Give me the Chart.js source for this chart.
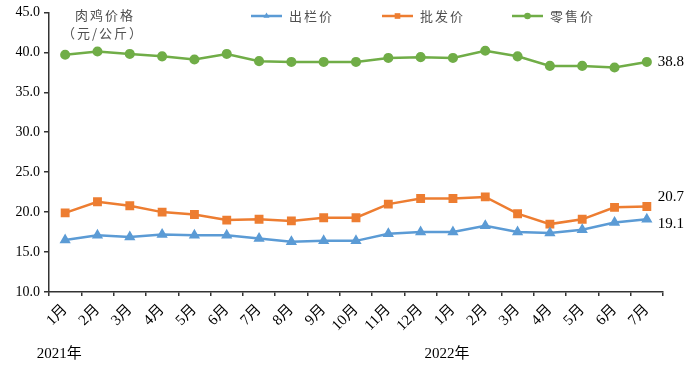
<!DOCTYPE html>
<html>
<head>
<meta charset="utf-8">
<script src="https://cdn.jsdelivr.net/npm/chart.js"></script>
<style>
  html, body { margin: 0; padding: 0; background: #fff; }
  #wrap { width: 692px; height: 369px; position: relative; }
</style>
</head>
<body>
<div id="wrap"><canvas id="chart"></canvas></div>
<script>
// 月份（2021年1月 - 2022年7月）
const months = ['1月', '2月', '3月', '4月', '5月', '6月', '7月', '8月', '9月', '10月', '11月', '12月',
                '1月', '2月', '3月', '4月', '5月', '6月', '7月'];
const yearLabels = ['2021年', '2022年'];
const yearIndex = [0, 12];

// 出栏价、批发价、零售价（元/公斤）
const chuLan = [16.5, 17.1, 16.9, 17.2, 17.1, 17.1, 16.7, 16.3, 16.4, 16.4, 17.3, 17.5,
                17.5, 18.3, 17.5, 17.4, 17.8, 18.7, 19.1];
const piFa = [19.9, 21.3, 20.8, 20.0, 19.7, 19.0, 19.1, 18.9, 19.3, 19.3, 21.0, 21.7,
              21.7, 21.9, 19.8, 18.5, 19.1, 20.6, 20.7];
const lingShou = [39.7, 40.1, 39.8, 39.5, 39.1, 39.8, 38.9, 38.8, 38.8, 38.8, 39.3, 39.4,
                  39.3, 40.2, 39.5, 38.3, 38.3, 38.1, 38.8];

const yTicks = [10, 15, 20, 25, 30, 35, 40, 45];

const serif = "'Liberation Serif', 'Noto Sans CJK SC', serif";
const cjk = "'Noto Sans CJK SC', sans-serif";

// 图例、坐标轴标题、年份、末值标注
const extras = {
    id: 'extras',
    afterDraw(chart) {
        const ctx = chart.ctx;
        const x = chart.scales.x;
        const y = chart.scales.y;
        ctx.save();

        // 纵轴标题
        ctx.fillStyle = '#505050';
        ctx.font = '13px ' + cjk;
        ctx.textBaseline = 'middle';
        ctx.textAlign = 'left';
        ctx.letterSpacing = '2px';
        ctx.fillText('肉鸡价格', 75, 15);
        ctx.fillText('（元/公斤）', 62, 33);

        // 图例
        const legendX = [251, 382, 512];
        chart.data.datasets.forEach((ds, i) => {
            const lx = legendX[i];
            const ly = 16;
            ctx.strokeStyle = ds.borderColor;
            ctx.lineWidth = 2.5;
            ctx.beginPath();
            ctx.moveTo(lx, ly);
            ctx.lineTo(lx + 31, ly);
            ctx.stroke();
            ctx.fillStyle = ds.borderColor;
            Chart.helpers.drawPoint(ctx, {
                pointStyle: ds.pointStyle,
                radius: ds.pointRadius - 0.5,
                borderWidth: 0
            }, lx + 15.5, ly);
            ctx.fillStyle = '#505050';
            ctx.font = '13px ' + cjk;
            ctx.textAlign = 'left';
            ctx.fillText(ds.label, lx + 38, ly);
        });

        // 年份
        ctx.letterSpacing = '0px';
        ctx.fillStyle = '#000';
        ctx.font = '15px ' + serif;
        ctx.textAlign = 'center';
        yearLabels.forEach((t, i) => {
            ctx.fillText(t, x.getPixelForValue(yearIndex[i]) - 6, 354);
        });

        // 末值标注
        ctx.font = '15px ' + serif;
        ctx.textAlign = 'left';
        const last = months.length - 1;
        const shifts = [5, -9, 0];
        chart.data.datasets.forEach((ds, i) => {
            const v = ds.data[last];
            ctx.fillText(v.toFixed(1), x.getPixelForValue(last) + 11, y.getPixelForValue(v) + shifts[i]);
        });
        ctx.restore();
    }
};

new Chart(document.getElementById('chart'), {
    type: 'line',
    data: {
        labels: months,
        datasets: [{
            label: '出栏价',
            data: chuLan,
            borderColor: '#5B9BD5',
            backgroundColor: '#5B9BD5',
            pointStyle: 'triangle',
            pointRadius: 4,
            borderWidth: 2.5
        }, {
            label: '批发价',
            data: piFa,
            borderColor: '#ED7D31',
            backgroundColor: '#ED7D31',
            pointStyle: 'rect',
            pointRadius: 4.5,
            borderWidth: 2.5
        }, {
            label: '零售价',
            data: lingShou,
            borderColor: '#70AD47',
            backgroundColor: '#70AD47',
            pointStyle: 'circle',
            pointRadius: 3.8,
            borderWidth: 2.5
        }]
    },
    options: {
        responsive: true,
        maintainAspectRatio: false,
        animation: false,
        layout: { padding: { top: 12, right: 29, bottom: 0, left: 0 } },
        elements: { line: { tension: 0 }, point: { borderWidth: 0 } },
        plugins: {
            legend: { display: false },
            tooltip: { enabled: false }
        },
        scales: {
            x: {
                offset: true,
                afterFit: (s) => { s.height = 77; },
                grid: {
                    offset: true,
                    drawOnChartArea: false,
                    drawTicks: true,
                    tickLength: 4,
                    color: '#333',
                    lineWidth: 1.5
                },
                border: { display: true, color: '#333', width: 1.5 },
                ticks: {
                    minRotation: 45,
                    maxRotation: 45,
                    autoSkip: false,
                    padding: 5,
                    color: '#000',
                    font: { family: serif, size: 15 }
                }
            },
            y: {
                min: 10,
                max: 45,
                afterFit: (s) => { s.width = 49; },
                afterBuildTicks: (s) => { s.ticks = yTicks.map(v => ({ value: v })); },
                grid: {
                    drawOnChartArea: false,
                    drawTicks: true,
                    tickLength: 5,
                    color: '#333',
                    lineWidth: 1.5
                },
                border: { display: true, color: '#333', width: 1.5 },
                ticks: {
                    padding: 4,
                    color: '#000',
                    font: { family: serif, size: 14 },
                    callback: (v) => v.toFixed(1)
                }
            }
        }
    },
    plugins: [extras]
});
</script>
</body>
</html>
